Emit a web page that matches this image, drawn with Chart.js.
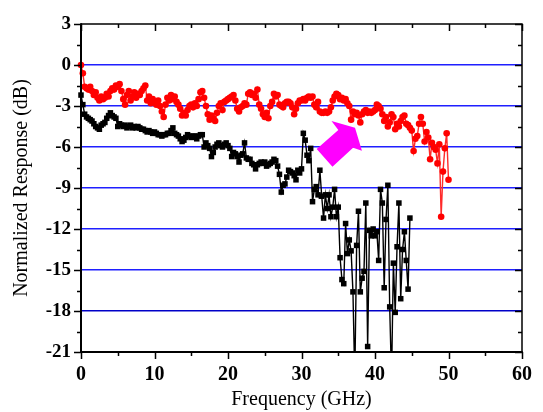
<!DOCTYPE html>
<html>
<head>
<meta charset="utf-8">
<script src="https://cdn.jsdelivr.net/npm/chart.js@4.4.1/dist/chart.umd.min.js"></script>
<style>
html,body{margin:0;padding:0;background:#fff;}
#wrap{width:543px;height:412px;}
</style>
</head>
<body>
<div id="wrap"><canvas id="c" width="543" height="412"></canvas></div>
<script>
// ---- data (dB vs GHz) ----
const stepGHz = 0.25;
const redValues = [
 0.0,-0.6,-1.6,-1.7,-1.8,-1.6,-1.9,-2.2,-2.0,
 -2.4,-2.6,-2.3,-2.5,-2.4,-2.1,-2.3,-1.9,
 -1.7,-1.8,-1.5,-1.6,-1.4,-1.9,-2.5,-2.9,
 -2.2,-1.9,-2.6,-2.3,-2.0,-2.4,-2.1,-2.2,
 -1.9,-1.7,-1.5,-2.6,-2.3,-2.8,-2.5,-2.7,
 -2.9,-2.6,-3.0,-3.4,-3.8,-2.9,-2.4,-2.6,
 -2.2,-2.5,-2.3,-2.7,-2.9,-3.2,-3.7,-3.5,
 -3.7,-3.3,-3.0,-2.9,-3.1,-2.8,-3.0,-2.5,
 -2.0,-1.9,-2.4,-3.0,-3.6,-4.0,-3.7,-3.9,
 -4.1,-3.5,-3.0,-2.8,-3.3,-2.7,-2.6,-2.5,
 -2.4,-2.3,-2.2,-2.6,-3.2,-3.4,-3.1,-3.0,
 -2.8,-2.9,-2.1,-2.0,-2.2,-2.1,-2.4,-1.8,
 -2.9,-3.2,-3.6,-3.8,-3.5,-3.9,-3.0,-2.7,
 -2.1,-2.3,-2.2,-2.9,-3.0,-3.1,-2.8,-2.7,
 -2.7,-2.8,-3.1,-3.6,-3.2,-2.8,-2.6,-2.6,
 -2.5,-2.6,-2.4,-2.3,-2.4,-2.3,-2.9,-3.1,
 -2.7,-3.4,-3.5,-3.5,-3.4,-3.5,-3.4,-3.1,
 -2.6,-2.3,-2.1,-2.2,-2.5,-2.4,-2.6,-2.5,
 -2.8,-3.0,-4.0,-3.4,-3.6,-3.5,-3.7,-4.2,
 -3.6,-3.4,-3.3,-3.5,-3.4,-3.5,-3.4,-3.3,
 -2.9,-3.0,-3.2,-3.6,-4.1,-3.8,-4.5,-4.2,
 -3.6,-3.8,-4.7,-4.3,-4.5,-4.1,-3.8,-3.7,
 -4.3,-4.4,-4.6,-4.8,-6.3,-5.4,-5.2,-4.3,
 -3.8,-4.3,-5.6,-4.9,-5.3,-6.9,-5.7,-6.0,
 -6.2,-7.2,-5.8,-11.1,-7.8,-6.1,-5.0,-8.4
];
const blackValues = [
 -2.2,-2.9,-3.6,-3.8,-3.9,-4.0,-4.1,-4.3,-4.5,
 -4.6,-4.7,-4.4,-4.3,-4.2,-3.9,-3.7,-3.5,
 -3.7,-3.8,-3.9,-4.5,-4.3,-4.4,-4.5,-4.4,
 -4.6,-4.5,-4.4,-4.6,-4.5,-4.6,-4.5,-4.6,
 -4.7,-4.7,-4.8,-4.9,-4.8,-4.9,-5.0,-4.9,
 -5.0,-5.1,-5.1,-5.2,-5.1,-5.1,-5.0,-5.0,
 -4.8,-4.6,-5.0,-5.1,-5.2,-5.4,-5.6,-5.5,
 -5.3,-5.1,-5.2,-5.3,-5.2,-5.2,-5.4,-5.2,
 -5.1,-5.1,-6.0,-5.7,-5.9,-6.1,-6.7,-6.4,
 -6.0,-5.8,-5.7,-5.9,-6.0,-5.8,-5.7,-5.9,
 -6.1,-6.7,-6.4,-6.5,-6.7,-7.1,-6.6,-6.5,
 -5.7,-6.8,-6.9,-6.9,-7.2,-7.3,-7.6,-7.3,
 -7.2,-7.1,-7.2,-7.1,-7.4,-7.3,-7.2,-7.1,
 -6.9,-7.0,-7.4,-8.0,-9.3,-8.8,-8.7,-8.2,
 -7.7,-7.8,-7.9,-8.1,-8.4,-7.7,-7.9,-7.6,
 -5.0,-5.5,-6.6,-7.0,-6.1,-10.0,-9.1,-8.9,
 -9.5,-7.7,-9.6,-11.2,-9.5,-10.5,-9.5,-11.1,
 -10.4,-9.1,-11.1,-10.4,-14.1,-15.7,-16.0,-11.6,
 -13.8,-12.8,-13.6,-16.6,-23,-13.2,-10.7,-16.6,
 -15.6,-15.1,-10.1,-20.6,-12.1,-12.5,-12.0,-12.5,
 -12.2,-14.3,-9.1,-10.1,-16.3,-11.3,-8.8,-17.7,
 -23,-14.5,-18.1,-13.3,-10.1,-17.1,-13.5,-12.2,
 -14.3,-16.4,-11.2
];
const redFreq = redValues.map((_, i) => i * stepGHz);
const blackFreq = blackValues.map((_, i) => i * stepGHz);
const xTickMin = 0, xTickMax = 60, xTickStep = 10;
const yTickMin = -21, yTickMax = 3, yTickStep = 3;
// arrow annotation outline in data units (GHz, dB)
const arrowX = [32.07, 34.21, 37.02, 38.22, 37.28, 34.08, 35.01];
const arrowY = [-6.14, -7.45, -6.06, -6.28, -4.60, -4.09, -4.75];

const toXY = (xs, ys) => xs.map((x, i) => ({x: x, y: ys[i]}));

const framePlugin = {
  id: 'frame',
  afterDatasetsDraw(chart) {
    const {ctx} = chart;
    const xs = chart.scales.x, ys = chart.scales.y;
    ctx.save();
    ctx.beginPath();
    for (let i = 0; i < arrowX.length; i++) {
      const px = xs.getPixelForValue(arrowX[i]);
      const py = ys.getPixelForValue(arrowY[i]);
      if (i === 0) ctx.moveTo(px, py); else ctx.lineTo(px, py);
    }
    ctx.closePath();
    ctx.fillStyle = '#ff00ff';
    ctx.fill();
    ctx.restore();
  },
  afterDraw(chart) {
    const {ctx, chartArea: a} = chart;
    const xs = chart.scales.x, ys = chart.scales.y;
    ctx.save();
    ctx.strokeStyle = '#000';
    ctx.lineWidth = 1.5;
    ctx.beginPath();
    for (let v = yTickMin; v <= yTickMax + 1e-9; v += yTickStep / 2) {
      const major = Math.abs(((v - yTickMin) / yTickStep) - Math.round((v - yTickMin) / yTickStep)) < 1e-6;
      const L = major ? 7 : 4;
      const py = Math.round(ys.getPixelForValue(v)) + 0.5;
      ctx.moveTo(a.left - L, py); ctx.lineTo(a.left, py);
      ctx.moveTo(a.right, py); ctx.lineTo(a.right - L, py);
    }
    for (let v = xTickMin; v <= xTickMax + 1e-9; v += xTickStep / 2) {
      const major = Math.abs(((v - xTickMin) / xTickStep) - Math.round((v - xTickMin) / xTickStep)) < 1e-6;
      const L = major ? 7 : 4;
      const px = Math.round(xs.getPixelForValue(v)) + 0.5;
      ctx.moveTo(px, a.bottom); ctx.lineTo(px, a.bottom + L);
      ctx.moveTo(px, a.top); ctx.lineTo(px, a.top + L);
    }
    ctx.stroke();
    ctx.lineWidth = 1.5;
    ctx.beginPath();
    ctx.moveTo(a.left, a.top); ctx.lineTo(a.right, a.top); ctx.lineTo(a.right, a.bottom);
    ctx.stroke();
    ctx.lineWidth = 2;
    ctx.beginPath();
    ctx.moveTo(a.left, a.top - 0.75); ctx.lineTo(a.left, a.bottom); ctx.lineTo(a.right + 0.75, a.bottom);
    ctx.stroke();
    ctx.restore();
  }
};

new Chart(document.getElementById('c'), {
  type: 'scatter',
  data: {
    datasets: [
      {
        label: 'red',
        data: toXY(redFreq, redValues),
        showLine: true,
        borderColor: '#ff2a2a',
        borderWidth: 1.4,
        pointStyle: 'circle',
        pointRadius: 3.3,
        pointBackgroundColor: '#ff0000',
        pointBorderWidth: 0,
        clip: {left: 6, top: 6, right: 6, bottom: 0}
      },
      {
        label: 'black',
        data: toXY(blackFreq, blackValues),
        showLine: true,
        borderColor: '#000',
        borderWidth: 1.4,
        pointStyle: 'rect',
        pointRadius: 3.9,
        pointBackgroundColor: '#000',
        pointBorderWidth: 0,
        clip: {left: 6, top: 6, right: 6, bottom: 0}
      }
    ]
  },
  options: {
    responsive: false,
    animation: false,
    devicePixelRatio: 1,
    layout: {padding: {top: 24, right: 13, left: 0, bottom: 0}},
    plugins: {legend: {display: false}, tooltip: {enabled: false}},
    scales: {
      x: {
        type: 'linear',
        min: xTickMin, max: xTickMax,
        ticks: {stepSize: xTickStep, color: '#000', padding: 11,
          font: {family: 'Liberation Serif', size: 20, weight: 'bold'}},
        grid: {display: false, drawTicks: false},
        border: {display: false},
        title: {display: true, text: 'Frequency (GHz)', color: '#000',
          font: {family: 'Liberation Serif', size: 20}, padding: {top: 0, bottom: 0}},
        afterFit(s) { s.height = 60; }
      },
      y: {
        type: 'linear',
        min: yTickMin, max: yTickMax,
        ticks: {stepSize: yTickStep, color: '#000', padding: 10,
          font: {family: 'Liberation Serif', size: 19, weight: 'bold'}},
        grid: {
          drawTicks: false,
          lineWidth: 1.5,
          color: (c) => (c.tick && c.tick.value > yTickMin && c.tick.value < yTickMax) ? (c.tick.value === -18 ? '#0000c8' : '#1f1fff') : 'rgba(0,0,0,0)'
        },
        border: {display: false},
        title: {display: true, text: 'Normalized Response (dB)', color: '#000',
          font: {family: 'Liberation Serif', size: 20}, padding: {top: 10, bottom: 0}},
        afterFit(s) { s.width = 81; }
      }
    }
  },
  plugins: [framePlugin]
});
</script>
</body>
</html>
